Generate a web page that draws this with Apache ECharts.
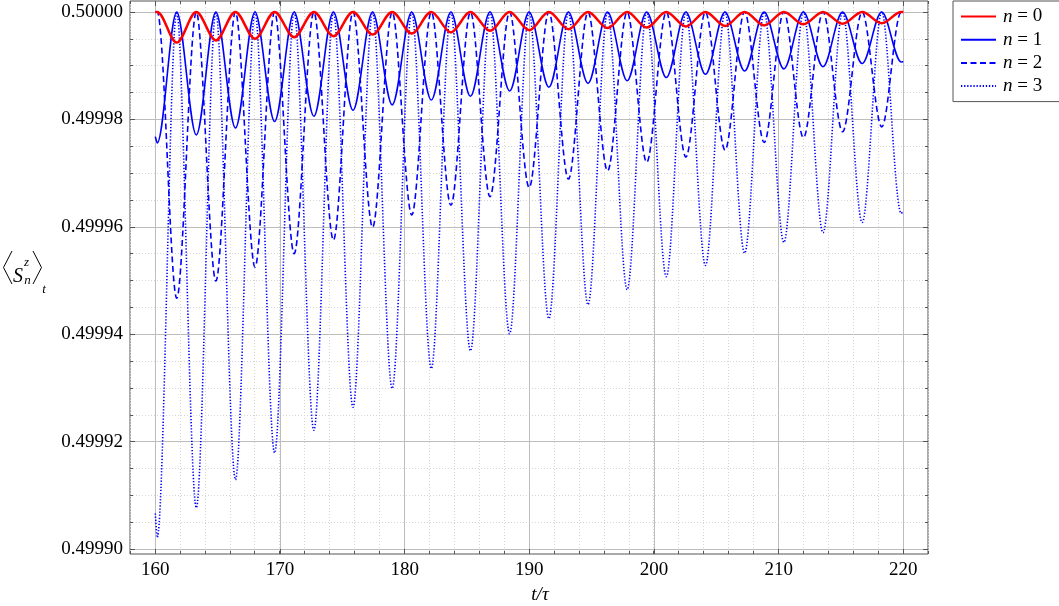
<!DOCTYPE html>
<html>
<head>
<meta charset="utf-8">
<script src="https://cdn.jsdelivr.net/npm/echarts@6/dist/echarts.min.js"></script>
<style>
  html, body { margin: 0; padding: 0; background: #fff; }
  #chart { width: 1059px; height: 606px; }
</style>
</head>
<body>
<div id="chart"></div>
<script>
// times of the extrema (t/tau)
const tA = [160.15, 163.29, 166.43, 169.57, 172.72, 175.86, 179.00, 182.14, 185.28, 188.42,
            191.57, 194.71, 197.85, 200.99, 204.13, 207.27, 210.42, 213.56, 216.70, 219.84]
const tB = [161.72, 164.86, 168.00, 171.14, 174.29, 177.43, 180.57, 183.71, 186.85, 189.99,
            193.14, 196.28, 199.42, 202.56, 205.70, 208.84, 211.99, 215.13, 218.27]
const peak = 0.5

// n = 0 : minima at tB
const n0Min = [0.4999943, 0.4999947, 0.4999950, 0.4999953, 0.4999955, 0.4999958, 0.4999960,
               0.4999962, 0.4999965, 0.4999966, 0.4999968, 0.4999970, 0.4999971, 0.4999973,
               0.4999974, 0.4999975, 0.4999977, 0.4999978, 0.4999979]
const n0Ends = [0.5, 0.5]
// n = 1 : minima at tA
const n1Min = [0.4999756, 0.4999771, 0.4999784, 0.4999796, 0.4999806, 0.4999817, 0.4999827,
               0.4999836, 0.4999843, 0.4999853, 0.4999860, 0.4999867, 0.4999872, 0.4999878,
               0.4999884, 0.4999890, 0.4999894, 0.4999898, 0.4999904, 0.4999907]
const n1Ends = [0.4999768, 0.4999908]
// n = 2 : minima at tB
const n2Min = [0.4999467, 0.4999499, 0.4999525, 0.4999550, 0.4999575, 0.4999599, 0.4999622,
               0.4999640, 0.4999656, 0.4999673, 0.4999689, 0.4999704, 0.4999720, 0.4999730,
               0.4999743, 0.4999757, 0.4999766, 0.4999777, 0.4999786]
const n2Ends = [0.5, 0.5]
// n = 3 : minima at tA
const n3Min = [0.4999021, 0.4999077, 0.4999129, 0.4999179, 0.4999221, 0.4999264, 0.4999299,
               0.4999336, 0.4999369, 0.4999401, 0.4999429, 0.4999455, 0.4999483, 0.4999507,
               0.4999528, 0.4999551, 0.4999571, 0.4999589, 0.4999608, 0.4999625]
const n3Ends = [0.4999066, 0.4999628]

const xTicks = [160, 170, 180, 190, 200, 210, 220]
const yTicks = [0.49990, 0.49992, 0.49994, 0.49996, 0.49998, 0.50000]

const serif = 'Liberation Serif'
const frameColor = '#555'
const majorGrid = '#bdbdbd'
const minorGrid = '#d6d6d6'
const tickStyle = { color: frameColor, width: 1 }

// merge minima, maxima and the two end values into one [t, value] list
function build (ends, lowT, lows, highT) {
  const pts = []
  lowT.forEach((t, i) => pts.push([t, lows[i]]))
  highT.forEach(t => pts.push([t, peak]))
  pts.sort((a, b) => a[0] - b[0])
  return [[xTicks[0], ends[0]]].concat(pts, [[xTicks[xTicks.length - 1], ends[1]]])
}

const chart = echarts.init(document.getElementById('chart'))

const tickAxis = (extra) => Object.assign({
  type: 'value',
  axisLine: { show: false, onZero: false },
  axisLabel: { show: false },
  splitLine: { show: false }
}, extra)

const lineSeries = (name, data, lineStyle, z) => ({
  name,
  type: 'line',
  xAxisIndex: 5,
  yAxisIndex: 4,
  data,
  symbol: 'none',
  showSymbol: false,
  smooth: 0.33,
  clip: false,
  z,
  lineStyle
})

const option = {
  animation: false,
  backgroundColor: '#fff',
  grid: [
    // frame
    { left: 130, top: 1, width: 798, height: 553, show: true, borderColor: frameColor, borderWidth: 1, backgroundColor: 'transparent' },
    // major x ticks
    { left: 155.3, top: 1, width: 748, height: 553 },
    // y ticks
    { left: 130, top: 12, width: 798, height: 537 },
    // data
    { left: 155.3, top: 12, width: 748, height: 537 }
  ],
  xAxis: [
    tickAxis({ gridIndex: 0, min: 158, max: 222, interval: 2,
      axisTick: { inside: true, length: 3, lineStyle: tickStyle },
      splitLine: { show: true, lineStyle: { color: minorGrid, type: [1, 2] } } }),
    tickAxis({ gridIndex: 0, position: 'top', min: 158, max: 222, interval: 2,
      axisTick: { inside: true, length: 3, lineStyle: tickStyle } }),
    tickAxis({ gridIndex: 1, min: xTicks[0], max: xTicks[xTicks.length - 1], interval: 10,
      axisTick: { inside: true, length: 5, lineStyle: tickStyle },
      axisLabel: { show: true, margin: 7, fontFamily: serif, fontSize: 19, color: '#000' },
      splitLine: { show: true, lineStyle: { color: majorGrid, width: 1 } } }),
    tickAxis({ gridIndex: 1, position: 'top', min: xTicks[0], max: xTicks[xTicks.length - 1], interval: 10,
      axisTick: { inside: true, length: 5, lineStyle: tickStyle } }),
    { gridIndex: 2, type: 'value', show: false, min: 0, max: 1 },
    { gridIndex: 3, type: 'value', show: false, min: xTicks[0], max: xTicks[xTicks.length - 1] }
  ],
  yAxis: [
    { gridIndex: 0, type: 'value', show: false, min: 0, max: 1 },
    { gridIndex: 1, type: 'value', show: false, min: 0, max: 1 },
    tickAxis({ gridIndex: 2, min: yTicks[0], max: yTicks[yTicks.length - 1], interval: 0.00002,
      axisTick: { inside: true, length: 5, lineStyle: tickStyle },
      minorTick: { show: true, splitNumber: 4, length: 3, lineStyle: tickStyle },
      axisLabel: { show: true, margin: 7, fontFamily: serif, fontSize: 19, color: '#000',
        formatter: v => v.toFixed(5) },
      splitLine: { show: true, lineStyle: { color: majorGrid, width: 1 } },
      minorSplitLine: { show: true, lineStyle: { color: minorGrid, type: [1, 2] } } }),
    tickAxis({ gridIndex: 2, position: 'right', min: yTicks[0], max: yTicks[yTicks.length - 1], interval: 0.00002,
      axisTick: { inside: true, length: 5, lineStyle: tickStyle },
      minorTick: { show: true, splitNumber: 4, length: 3, lineStyle: tickStyle } }),
    { gridIndex: 3, type: 'value', show: false, min: yTicks[0], max: yTicks[yTicks.length - 1] }
  ],
  legend: {
    data: ['n = 0', 'n = 1', 'n = 2', 'n = 3'],
    orient: 'vertical',
    left: 953,
    top: 1,
    padding: [6, 9, 6, 7],
    itemWidth: 35,
    itemHeight: 14,
    itemGap: 4.2,
    selectedMode: false,
    backgroundColor: '#fff',
    borderColor: frameColor,
    borderWidth: 1,
    borderRadius: 0,
    itemStyle: { color: 'transparent', borderWidth: 0, opacity: 0 },
    formatter: name => '{i|n}' + name.slice(1),
    textStyle: {
      fontFamily: serif, fontSize: 19, lineHeight: 14, color: '#000', width: 50, padding: [0, 0, 0, 2],
      rich: { i: { fontFamily: serif, fontSize: 19, lineHeight: 14, fontStyle: 'italic', color: '#000' } }
    }
  },
  graphic: [
    { type: 'polyline', shape: { points: [[12, 251], [3.5, 267.5], [12, 284]] }, style: { stroke: '#000', lineWidth: 1, fill: null } },
    { type: 'polyline', shape: { points: [[33, 251], [41.5, 267.5], [33, 284]] }, style: { stroke: '#000', lineWidth: 1, fill: null } },
    { type: 'text', x: 18, y: 277, style: { text: 'S', font: 'italic 20px Liberation Serif', textAlign: 'center', textVerticalAlign: 'middle', fill: '#000' } },
    { type: 'text', x: 26.5, y: 263, style: { text: 'z', font: 'italic 13px Liberation Serif', textAlign: 'center', textVerticalAlign: 'middle', fill: '#000' } },
    { type: 'text', x: 27.5, y: 281, style: { text: 'n', font: 'italic 13px Liberation Serif', textAlign: 'center', textVerticalAlign: 'middle', fill: '#000' } },
    { type: 'text', x: 44, y: 290, style: { text: 't', font: 'italic 13px Liberation Serif', textAlign: 'center', textVerticalAlign: 'middle', fill: '#000' } },
    { type: 'text', x: 540, y: 595, style: { text: 't/τ', font: 'italic 19px Liberation Serif', textAlign: 'center', textVerticalAlign: 'middle', fill: '#000' } }
  ],
  series: [
    lineSeries('n = 1', build(n1Ends, tA, n1Min, tB), { color: '#0000ff', width: 1.6 }, 3),
    lineSeries('n = 2', build(n2Ends, tB, n2Min, tA), { color: '#0000ff', width: 1.6, type: [6, 3.5] }, 3),
    lineSeries('n = 3', build(n3Ends, tA, n3Min, tB), { color: '#0000ff', width: 1.6, type: [1.3, 1.8] }, 3),
    lineSeries('n = 0', build(n0Ends, tB, n0Min, tA), { color: '#ff0000', width: 2.5 }, 4)
  ]
}
option.series.forEach(s => { s.itemStyle = { color: s.lineStyle.color } })

chart.setOption(option)
</script>
</body>
</html>
